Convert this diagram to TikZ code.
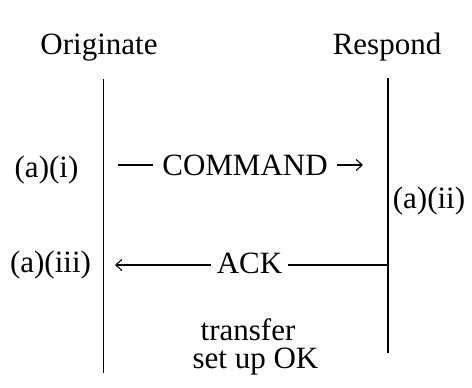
\documentclass[tikz,border=0pt]{standalone}
\usepackage{fontspec}
\setmainfont{Liberation Serif}
\usetikzlibrary{arrows.meta}
\begin{document}
\begin{tikzpicture}[x=1pt,y=-1pt,
  lbl/.style={font=\fontsize{31}{36}\selectfont, inner sep=0pt, anchor=base},
  msglbl/.style={font=\fontsize{31}{36}\selectfont, fill=white, inner ysep=2pt, anchor=base},
  lifeline/.style={line width=1.3pt},
  msg/.style={line width=1.1pt, -{Straight Barb[length=6pt,width=11pt,line width=1.1pt]}}]
\useasboundingbox (0,0) rectangle (472,388);

% column headings
\node[lbl] (orig) at (99,54) {Originate};
\node[lbl] (resp) at (387,54) {Respond};

% lifelines
\coordinate (ot) at (103.5,79);
\coordinate (ob) at (103.5,373);
\coordinate (rt) at (388,78);
\coordinate (rb) at (388,353);
\draw[lifeline] (ot) -- (ob);
\draw[lifeline] (rt) -- (rb);

% COMMAND message
\coordinate (cs) at (118,165);
\coordinate (ce) at (363,165);
\draw[msg] (cs) -- (ce);
\node[msglbl, inner xsep=9pt] (cmd) at (245,175) {COMMAND};

% ACK message
\coordinate (as) at (388,265);
\coordinate (ae) at (115,265);
\draw[msg] (as) -- (ae);
\node[msglbl, inner xsep=6pt] (ack) at (249.5,273) {ACK};

% step labels
\node[lbl] (ai) at (46.5,177) {(a)(i)};
\node[lbl] (aii) at (429,208) {(a)(ii)};
\node[lbl] (aiii) at (50.5,272) {(a)(iii)};

% outcome
\node[lbl] (tr) at (248,340) {transfer};
\node[lbl] (ok) at (255.5,368) {set up OK};
\end{tikzpicture}
\end{document}
